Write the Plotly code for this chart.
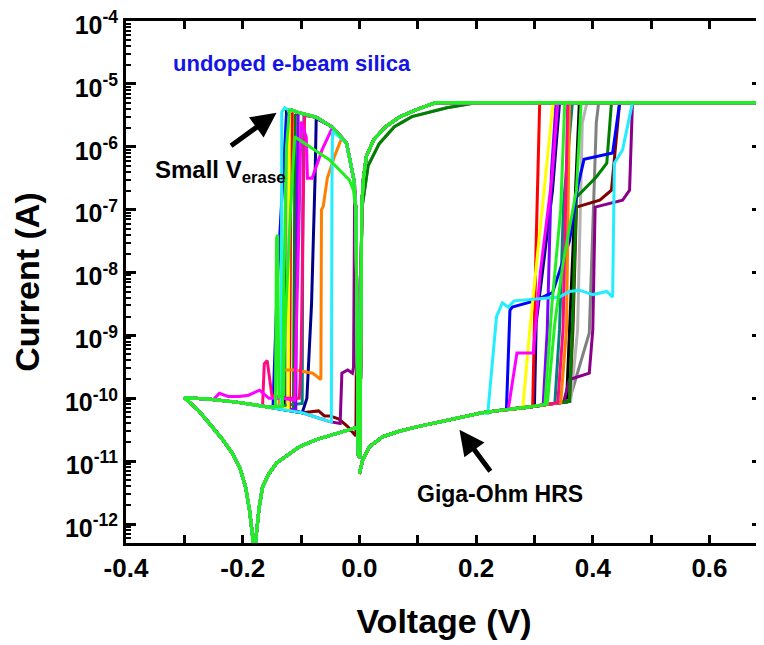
import plotly.graph_objects as go

# ---------------- shared branches (V, log10 I) ----------
HRS_POS_V = [0.0, 0.005, 0.017, 0.04, 0.07, 0.1, 0.155, 0.21, 0.25, 0.29, 0.326, 0.355, 0.38, 0.40]
HRS_POS_LOG = [-11.2, -11.0, -10.77, -10.61, -10.52, -10.45, -10.34, -10.23, -10.18, -10.14, -10.09, -10.06, -10.04, -10.02]

COMP_LOG = -5.3      # compliance level (5e-6 A)
V_MAX = 0.70

LRS_POS_V = [0.13, 0.10, 0.07, 0.045, 0.025, 0.012, 0.007, 0.004, 0.003, 0.001]
LRS_POS_LOG = [-5.3, -5.4, -5.52, -5.68, -5.88, -6.15, -6.5, -6.95, -8.5, -10.95]
LRS_LOW_V = [0.2, 0.15, 0.09, 0.06, 0.034, 0.015, 0.008, 0.004, 0.003, 0.001]
LRS_LOW_LOG = [-5.3, -5.38, -5.52, -5.68, -5.95, -6.3, -6.7, -7.0, -8.5, -10.95]

LRS_NEG_V = [-0.002, -0.004, -0.006, -0.01, -0.022, -0.046, -0.074, -0.103, -0.115, -0.125, -0.132]
LRS_NEG_LOG = [-10.9, -8.5, -7.0, -6.5, -5.94, -5.69, -5.53, -5.46, -5.42, -5.40, -5.40]

HRS_NEG_V = [0.0, -0.005, -0.022, -0.051, -0.098, -0.154, -0.211, -0.26, -0.30]
HRS_NEG_LOG = [-10.9, -10.7, -10.5, -10.37, -10.23, -10.14, -10.06, -10.01, -9.99]

RET_NEG_V = [-0.30, -0.275, -0.252, -0.235, -0.218, -0.205, -0.195, -0.188, -0.183, -0.180,
             -0.177, -0.172, -0.166, -0.155, -0.142, -0.12, -0.103, -0.075, -0.046, -0.02, 0.0]
RET_NEG_LOG = [-9.99, -10.2, -10.45, -10.65, -10.87, -11.1, -11.41, -11.8, -12.2, -12.7,
               -12.2, -11.75, -11.41, -11.2, -11.03, -10.88, -10.77, -10.66, -10.58, -10.5, -10.45]

# ---------------- per-cycle set and reset segments (V, log10 I) ---------------
set_black = [(0.355, -10.06), (0.362, -8.5), (0.369, -7.12), (0.377, -5.3)]
reset_black = [(-0.125, -5.42), (-0.127, -10.15)]

set_gray = [(0.338, -10.08), (0.36, -10.03), (0.377, -9.5), (0.394, -8.96), (0.406, -5.62), (0.41, -5.3)]
reset_gray = [(-0.118, -5.5), (-0.12, -10.17)]

set_silver = [(0.362, -10.05), (0.374, -8.91), (0.382, -5.62), (0.39, -5.3)]
reset_silver = [(-0.122, -5.45), (-0.124, -10.16)]

set_maroon = [(0.36, -10.05), (0.366, -8.9), (0.372, -6.96), (0.412, -6.85), (0.432, -6.69), (0.446, -5.3)]
reset_maroon = [(-0.004, -8.5), (-0.005, -9.07), (-0.006, -10.6), (-0.02, -10.45), (-0.035, -10.33),
                (-0.05, -10.28), (-0.06, -10.28), (-0.07, -10.2), (-0.085, -10.22)]

set_purple = [(0.35, -10.06), (0.36, -9.7), (0.394, -9.6), (0.4, -8.91), (0.404, -6.96),
              (0.451, -6.85), (0.463, -6.69), (0.468, -5.3)]
reset_purple = [(-0.008, -6.6), (-0.01, -9.5), (-0.012, -9.6), (-0.02, -9.55), (-0.03, -9.6), (-0.033, -10.4)]

set_dkgreen = [(0.36, -10.05), (0.365, -8.9), (0.372, -6.8), (0.406, -6.48), (0.424, -6.26), (0.432, -5.3)]
reset_dkgreen = [(-0.11, -5.5), (-0.113, -10.18)]

set_teal = [(0.335, -10.08), (0.343, -8.9), (0.35, -6.9), (0.365, -5.3)]
reset_teal = [(-0.095, -5.5), (-0.097, -7.0), (-0.098, -10.08)]

set_navy = [(0.3, -10.12), (0.303, -8.8), (0.32, -7.48), (0.331, -6.69), (0.343, -5.3)]
reset_navy = [(-0.074, -5.55), (-0.076, -6.5), (-0.082, -8.5), (-0.09, -10.0), (-0.097, -10.23)]

set_violet = [(0.315, -10.1), (0.322, -8.91), (0.329, -6.42), (0.337, -5.3)]
reset_violet = [(-0.105, -5.5), (-0.107, -7.0), (-0.109, -10.18)]

set_blue = [(0.252, -10.18), (0.258, -8.6), (0.262, -8.55), (0.30, -8.45), (0.331, -8.32), (0.36, -7.5),
            (0.375, -6.6), (0.385, -6.2), (0.434, -6.1), (0.446, -5.3)]
reset_blue = [(-0.125, -5.5), (-0.14, -8.0), (-0.148, -10.12)]

set_red = [(0.297, -10.13), (0.303, -7.5), (0.309, -5.3)]
reset_red = [(-0.115, -5.42), (-0.118, -7.0), (-0.12, -10.17)]

set_yellow = [(0.28, -10.15), (0.292, -8.91), (0.322, -6.21), (0.332, -5.3)]
reset_yellow = [(-0.12, -5.45), (-0.122, -10.16)]

set_orange = [(0.345, -10.07), (0.355, -8.91), (0.36, -5.3)]
reset_orange = [(-0.03, -5.85), (-0.043, -6.16), (-0.055, -6.5), (-0.062, -6.95), (-0.065, -7.0),
                (-0.066, -9.7), (-0.08, -9.6), (-0.11, -9.55), (-0.134, -9.55), (-0.138, -10.13)]

set_pink = [(0.34, -10.07), (0.349, -8.91), (0.357, -5.3)]
reset_pink = [(-0.094, -5.5), (-0.096, -7.0), (-0.1, -9.4), (-0.103, -10.0), (-0.13, -10.0),
              (-0.15, -9.95), (-0.158, -9.4), (-0.163, -9.45), (-0.166, -10.13)]

set_magenta = [(0.255, -10.18), (0.27, -9.28), (0.298, -9.28), (0.31, -8.0), (0.33, -6.5), (0.34, -5.3)]
reset_magenta = [(-0.064, -6.05), (-0.081, -6.5), (-0.089, -6.5), (-0.091, -5.85), (-0.1, -5.6),
                 (-0.103, -7.0), (-0.108, -9.0), (-0.111, -10.03), (-0.132, -10.0), (-0.155, -10.0),
                 (-0.171, -9.87), (-0.19, -9.95), (-0.206, -9.97), (-0.225, -9.97), (-0.24, -9.92),
                 (-0.25, -10.02)]

set_cyan = [(0.22, -10.24), (0.235, -8.7), (0.245, -8.48), (0.255, -8.55), (0.265, -8.45), (0.3, -8.42),
            (0.343, -8.39), (0.36, -8.3), (0.377, -8.28), (0.4, -8.35), (0.424, -8.3), (0.434, -8.39),
            (0.437, -6.26), (0.451, -6.05), (0.468, -5.3)]
reset_cyan = [(-0.128, -5.38), (-0.133, -5.45), (-0.134, -10.12)]
reset_cyan2 = [(-0.046, -5.75), (-0.047, -6.6), (-0.048, -10.37)]

set_green2 = [(0.318, -10.1), (0.33, -8.5), (0.345, -7.0), (0.352, -5.3)]
reset_green2 = [(-0.01, -6.7), (-0.017, -6.53), (-0.051, -6.21), (-0.085, -6.0), (-0.111, -5.84),
                (-0.118, -7.0), (-0.128, -9.0), (-0.13, -9.95), (-0.138, -9.98), (-0.14, -7.4),
                (-0.142, -7.45), (-0.144, -10.13)]

set_green = [(0.322, -10.09), (0.335, -8.8), (0.349, -7.85), (0.372, -6.69), (0.38, -5.3)]
reset_green = [(-0.12, -5.42), (-0.125, -6.0), (-0.13, -8.5), (-0.132, -10.13)]

CYCLES = [
    ("#000000", set_black, reset_black, "std"),
    ("#808080", set_gray, reset_gray, "low"),
    ("#B4B4B4", set_silver, reset_silver, "std"),
    ("#800000", set_maroon, reset_maroon, "std"),
    ("#8B008B", set_purple, reset_purple, "std"),
    ("#008000", set_dkgreen, reset_dkgreen, "low"),
    ("#008080", set_teal, reset_teal, "std"),
    ("#00008B", set_navy, reset_navy, "std"),
    ("#7F00FF", set_violet, reset_violet, "std"),
    ("#0000FF", set_blue, reset_blue, "std"),
    ("#FF0000", set_red, reset_red, "std"),
    ("#FFFF00", set_yellow, reset_yellow, "std"),
    ("#FF8000", set_orange, reset_orange, "std"),
    ("#FF0A80", set_pink, reset_pink, "std"),
    ("#FF00FF", set_magenta, reset_magenta, "std"),
    ("#22EEFF", None, reset_cyan2, "std"),
    ("#22EEFF", set_cyan, reset_cyan, "std"),
    ("#22EE22", set_green2, reset_green2, "std"),
    ("#22EE22", set_green, reset_green, "std"),
]


def build(set_pts, reset_pts, lrs_kind):
    vs, ls = [], []
    if set_pts:
        v0 = set_pts[0][0]
        for v, l in zip(HRS_POS_V, HRS_POS_LOG):
            if v < v0:
                vs.append(v); ls.append(l)
        for v, l in set_pts:
            vs.append(v); ls.append(l)
        vs.append(V_MAX); ls.append(COMP_LOG)
        lv, ll = (LRS_POS_V, LRS_POS_LOG) if lrs_kind == "std" else (LRS_LOW_V, LRS_LOW_LOG)
        vs += lv; ls += ll
    r0 = reset_pts[0][0]
    for v, l in zip(LRS_NEG_V, LRS_NEG_LOG):
        if v > r0:
            vs.append(v); ls.append(l)
    for v, l in reset_pts:
        vs.append(v); ls.append(l)
    r1 = reset_pts[-1][0]
    for v, l in zip(HRS_NEG_V, HRS_NEG_LOG):
        if v < r1:
            vs.append(v); ls.append(l)
    vs += RET_NEG_V; ls += RET_NEG_LOG
    return vs, [10 ** l for l in ls]


fig = go.Figure()
for color, sp, rp, kind in CYCLES:
    x, y = build(sp, rp, kind)
    fig.add_trace(go.Scatter(x=x, y=y, mode="lines", line=dict(color=color, width=3),
                             showlegend=False, hoverinfo="skip"))

FONT = "Liberation Sans, Arial, sans-serif"
X_TICKS = [-0.4, -0.2, 0.0, 0.2, 0.4, 0.6]
X_LABELS = ["-0.4", "-0.2", "0.0", "0.2", "0.4", "0.6"]
Y_EXP = [-12, -11, -10, -9, -8, -7, -6, -5, -4]
Y_TICKS = [10.0 ** e for e in Y_EXP]
Y_LABELS = ["10<sup>%d</sup>" % e for e in Y_EXP]
Y_MINOR = [m * 10.0 ** e for e in range(-13, -4) for m in range(2, 10)]

fig.update_xaxes(
    range=[-0.4, 0.69], tickmode="array", tickvals=X_TICKS, ticktext=X_LABELS,
    ticks="inside", ticklen=8, tickwidth=2.5, tickcolor="black",
    minor=dict(tickmode="array", tickvals=[-0.3, -0.1, 0.1, 0.3, 0.5],
               ticks="inside", ticklen=8, tickwidth=2.5, tickcolor="black"),
    showline=True, linewidth=3, linecolor="black", mirror="allticks",
    showgrid=False, zeroline=False, automargin=False, ticklabeloverflow="allow",
    tickfont=dict(family=FONT, size=26, color="black", weight="bold"),
    title=dict(text="Voltage (V)", font=dict(family=FONT, size=34, color="black", weight="bold"),
               standoff=27),
)
fig.update_yaxes(
    type="log", range=[-12.3, -4], tickmode="array", tickvals=Y_TICKS, ticktext=Y_LABELS,
    ticks="inside", ticklen=10, tickwidth=3, tickcolor="black",
    minor=dict(tickmode="array", tickvals=Y_MINOR, ticks="inside", ticklen=5, tickwidth=2,
               tickcolor="black"),
    showline=True, linewidth=3, linecolor="black", mirror="allticks",
    showgrid=False, zeroline=False, automargin=False, ticklabeloverflow="allow",
    ticklabelshift=4,
    tickfont=dict(family=FONT, size=25, color="black", weight="bold"),
    title=dict(text="Current (A)", font=dict(family=FONT, size=34, color="black", weight="bold"),
               standoff=25),
)

fig.add_annotation(xref="paper", yref="paper", x=0.261, y=0.918, text="undoped e-beam silica",
                   showarrow=False, xanchor="center", yanchor="middle",
                   font=dict(family=FONT, size=22, color="#1414E6", weight="bold"))
fig.add_annotation(xref="paper", yref="paper", x=0.042, y=0.711, text="Small V<sub>erase</sub>",
                   showarrow=False, xanchor="left", yanchor="middle",
                   font=dict(family=FONT, size=24, color="black", weight="bold"))
fig.add_annotation(xref="paper", yref="paper", x=0.588, y=0.094, text="Giga-Ohm HRS",
                   showarrow=False, xanchor="center", yanchor="middle",
                   font=dict(family=FONT, size=23, color="black", weight="bold"))
# arrows
fig.add_annotation(x=-0.142, y=-5.46, xref="x", yref="y", text="", showarrow=True,
                   ax=-47, ay=34, arrowhead=2, arrowsize=1.0, arrowwidth=5, arrowcolor="black")
fig.add_annotation(x=0.1715, y=-10.50, xref="x", yref="y", text="", showarrow=True,
                   ax=32, ay=43, arrowhead=2, arrowsize=1.0, arrowwidth=5, arrowcolor="black")

# the page body adds an 8 px offset, so the figure is 8 px smaller in each direction
fig.update_layout(
    width=756, height=637,
    margin=dict(l=118, r=2, t=13, b=102),
    paper_bgcolor="white", plot_bgcolor="white",
)
fig.write_html("out.html")
